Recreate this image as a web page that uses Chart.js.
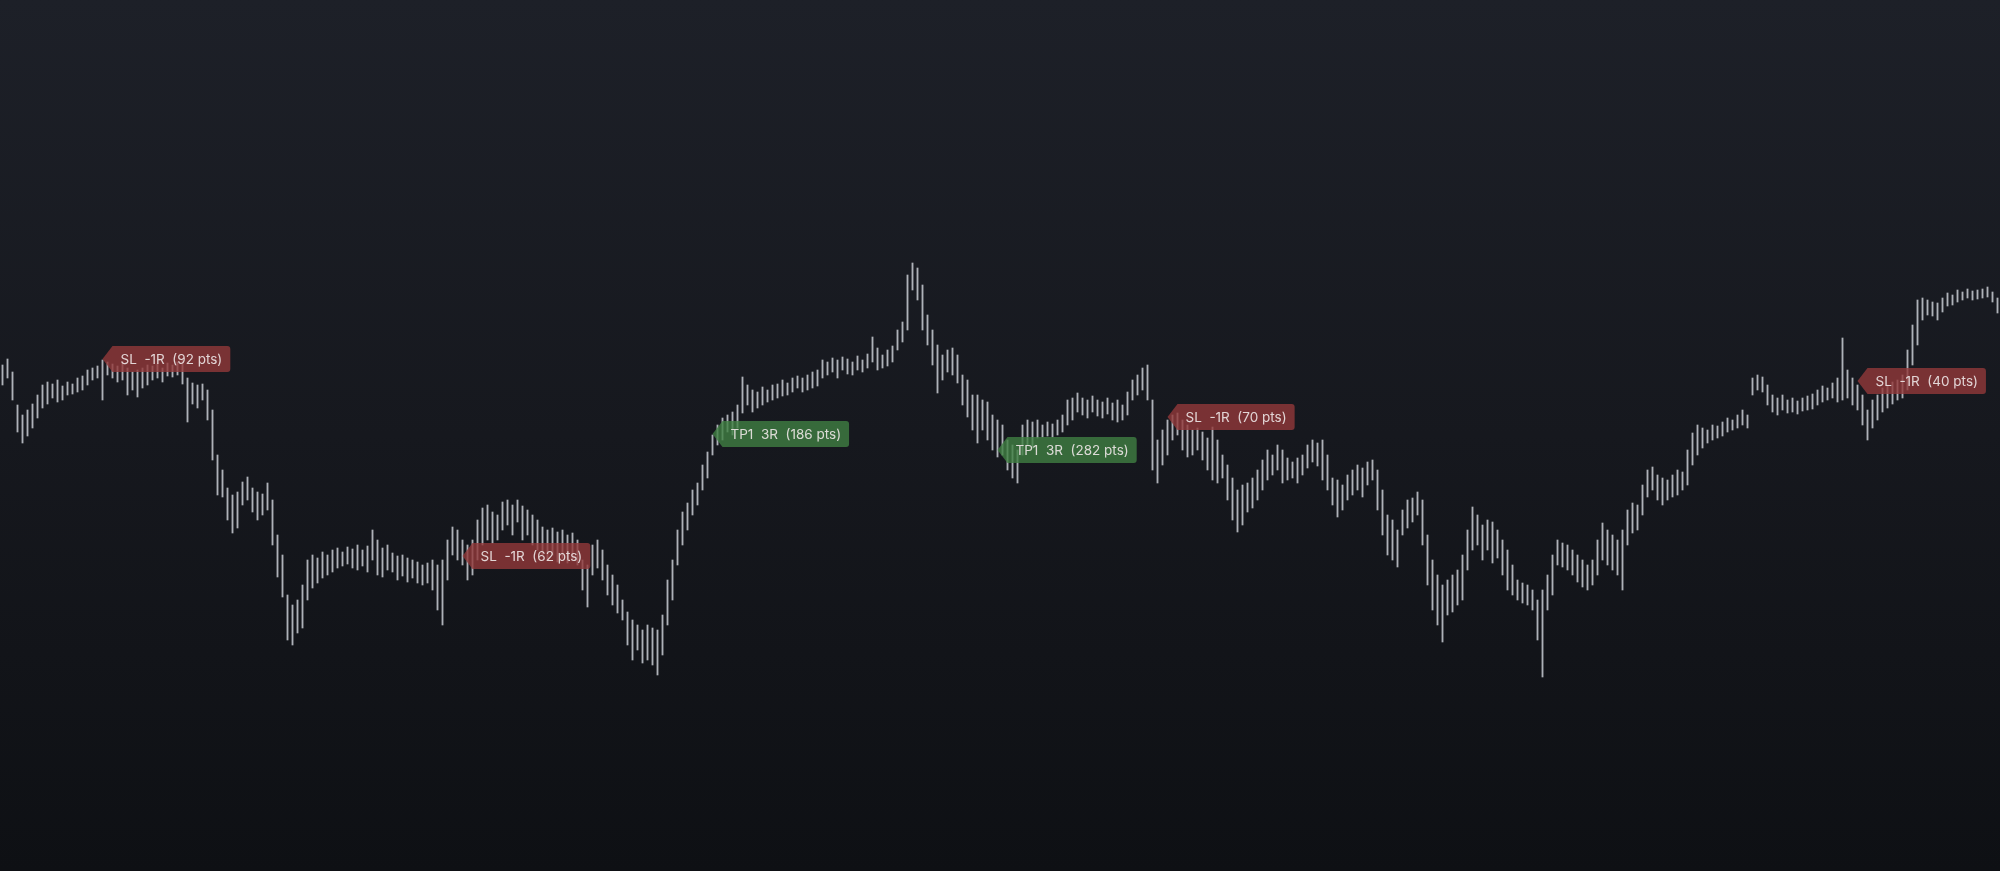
<!DOCTYPE html>
<html>
<head>
<meta charset="utf-8">
<script src="https://cdn.jsdelivr.net/npm/chart.js@4.4.1/dist/chart.umd.min.js"></script>
<style>
  html, body { margin: 0; padding: 0; overflow: hidden; }
  body { width: 2000px; height: 871px; background: linear-gradient(180deg, #1d2028 0%, #16181e 50%, #0e1014 100%); }
  #wrap { position: relative; width: 2000px; height: 871px; }
</style>
</head>
<body>
<div id="wrap"><canvas id="priceChart"></canvas></div>
<script>
// bar highs / lows (points)
const highs = [
  635,641,628,595,585,590,596,605,615,618, 616,620,614,618,616,622,624,630,632,634,
  640,638,636,634,638,632,628,630,632,635, 634,636,632,637,635,638,640,622,617,615,
  616,610,590,545,530,512,505,508,518,523, 512,508,506,517,500,465,445,405,395,400,
  415,440,445,442,448,445,450,452,448,453, 451,455,450,454,470,460,452,455,447,444,
  445,442,440,438,435,437,440,435,440,460, 473,470,460,455,460,480,492,495,488,485,
  498,500,495,500,494,490,485,480,473,470, 472,468,470,465,467,460,440,435,455,460,
  450,435,425,415,400,388,380,375,370,375, 372,370,385,420,440,470,488,497,510,517,
  535,548,565,575,582,585,588,595,623,615, 610,608,613,610,615,616,620,617,622,624,
  622,625,628,630,640,638,642,640,643,641, 638,644,640,646,663,652,645,650,654,670,
  678,725,737,732,715,685,670,655,645,650, 652,645,625,620,605,605,600,598,585,580,
  575,560,555,550,575,580,578,580,575,578, 576,580,585,600,602,607,602,600,604,600,
  598,602,597,600,595,608,620,625,632,635, 600,560,570,580,585,587,580,575,570,572,
  568,562,573,560,545,535,522,510,515,517, 522,530,540,550,545,555,550,542,538,542,
  545,555,560,557,560,545,522,520,515,525, 530,535,532,538,540,530,510,485,480,470,
  490,500,502,508,500,465,440,425,415,420, 425,430,445,470,493,485,475,480,478,470,
  460,450,435,420,417,415,410,400,410,425, 445,460,457,455,450,445,440,435,440,460,
  477,470,465,460,470,490,497,495,515,530, 533,525,522,520,525,530,528,550,567,575,
  572,570,575,574,578,582,580,585,590,585, 622,625,623,615,605,602,605,600,602,599,
  602,604,606,610,614,612,617,622,662,630, 622,615,605,590,600,605,612,615,618,620,
  625,650,675,700,702,700,698,697,702,707, 705,710,708,711,709,710,711,713,708,702
];
const lows = [
  615,622,600,568,557,564,572,582,592,596, 602,598,600,605,606,608,610,615,620,622,
  600,625,622,618,620,605,610,603,612,615, 620,622,618,624,623,625,616,578,596,592,
  600,580,540,505,503,480,467,472,495,500, 488,480,485,490,455,423,403,360,355,367,
  372,400,412,417,422,425,428,432,434,436, 432,430,434,428,440,425,423,430,428,420,
  424,418,422,417,415,417,410,390,375,420, 445,440,435,420,425,440,455,460,457,460,
  470,475,465,478,460,465,455,450,445,440, 445,438,442,437,440,435,410,393,425,432,
  420,405,395,387,380,355,340,350,337,340, 335,325,345,375,400,435,455,470,485,495,
  510,522,545,555,560,568,565,572,587,595, 588,592,595,598,600,602,604,605,608,612,
  608,610,612,614,622,625,628,622,630,626, 625,630,628,632,638,630,632,634,638,650,
  658,670,710,700,670,655,635,607,620,628, 625,617,595,583,570,557,570,560,550,543,
  545,530,522,517,545,555,552,562,563,564, 563,565,568,575,580,588,585,582,588,584,
  582,586,580,578,580,585,600,605,610,600, 530,517,535,545,560,565,550,543,545,550,
  540,530,520,517,522,500,480,468,475,488, 492,500,510,520,525,530,517,520,522,517,
  525,532,538,534,520,510,495,483,490,500, 505,510,503,515,520,490,465,445,440,433,
  465,472,478,485,455,415,390,375,358,385, 388,395,400,430,450,455,440,450,437,442,
  425,410,405,400,397,395,390,360,323,390, 405,435,433,430,425,418,413,410,415,425,
  440,435,430,425,410,455,467,470,485,503, 510,500,495,500,503,505,510,515,535,545,
  552,557,560,562,564,568,570,572,575,572, 605,610,608,595,588,585,590,587,588,586,
  589,590,591,595,598,600,602,598,600,602, 595,590,575,560,572,580,588,592,596,600,
  602,610,635,655,680,685,684,680,688,694, 695,698,700,702,700,701,702,703,698,687
];
const categories = highs.map((_, i) => i);

// trade exits: bar index, price level, text, kind
const tradeBars = [20, 92, 142, 199, 233, 371];
const tradeLevels = [641, 444, 566, 550, 583, 619];
const tradeTexts = ['SL  -1R  (92 pts)', 'SL  -1R  (62 pts)', 'TP1  3R  (186 pts)', 'TP1  3R  (282 pts)', 'SL  -1R  (70 pts)', 'SL  -1R  (40 pts)'];
const tradeKinds = ['sl', 'sl', 'tp', 'tp', 'sl', 'sl'];

const tradeLabels = {
  id: 'tradeLabels',
  afterDatasetsDraw(chart) {
    const ctx = chart.ctx;
    const xs = chart.scales.x, ys = chart.scales.y;
    ctx.save();
    ctx.font = '13.5px Inter, "Noto Sans", sans-serif';
    ctx.textBaseline = 'middle';
    tradeBars.forEach((bar, i) => {
      const tip = xs.getPixelForValue(bar);
      const cy = ys.getPixelForValue(tradeLevels[i]);
      const tw = ctx.measureText(tradeTexts[i]).width;
      const h = 26, notch = 10, r = 3;
      const left = tip + notch, right = left + 8 + tw + 8;
      const top = cy - h / 2, bottom = cy + h / 2;
      ctx.beginPath();
      ctx.moveTo(tip, cy);
      ctx.lineTo(left, top);
      ctx.lineTo(right - r, top);
      ctx.quadraticCurveTo(right, top, right, top + r);
      ctx.lineTo(right, bottom - r);
      ctx.quadraticCurveTo(right, bottom, right - r, bottom);
      ctx.lineTo(left, bottom);
      ctx.closePath();
      ctx.fillStyle = tradeKinds[i] === 'tp' ? 'rgba(64,128,66,0.8)' : 'rgba(146,56,58,0.8)';
      ctx.fill();
      ctx.fillStyle = 'rgba(238,232,232,0.9)';
      ctx.fillText(tradeTexts[i], left + 8, cy + 0.5);
    });
    ctx.restore();
  }
};

new Chart(document.getElementById('priceChart'), {
  type: 'bar',
  data: {
    labels: categories,
    datasets: [{
      data: highs.map((h, i) => [lows[i], h]),
      backgroundColor: 'rgba(212,216,224,0.8)',
      barThickness: 1.2,
      borderWidth: 0
    }]
  },
  options: {
    responsive: true,
    maintainAspectRatio: false,
    animation: false,
    layout: { padding: 0 },
    plugins: { legend: { display: false }, tooltip: { enabled: false } },
    scales: {
      x: { display: false, offset: true, grid: { display: false } },
      y: { display: false, min: 129, max: 1000, grid: { display: false } }
    }
  },
  plugins: [tradeLabels]
});
</script>
</body>
</html>
